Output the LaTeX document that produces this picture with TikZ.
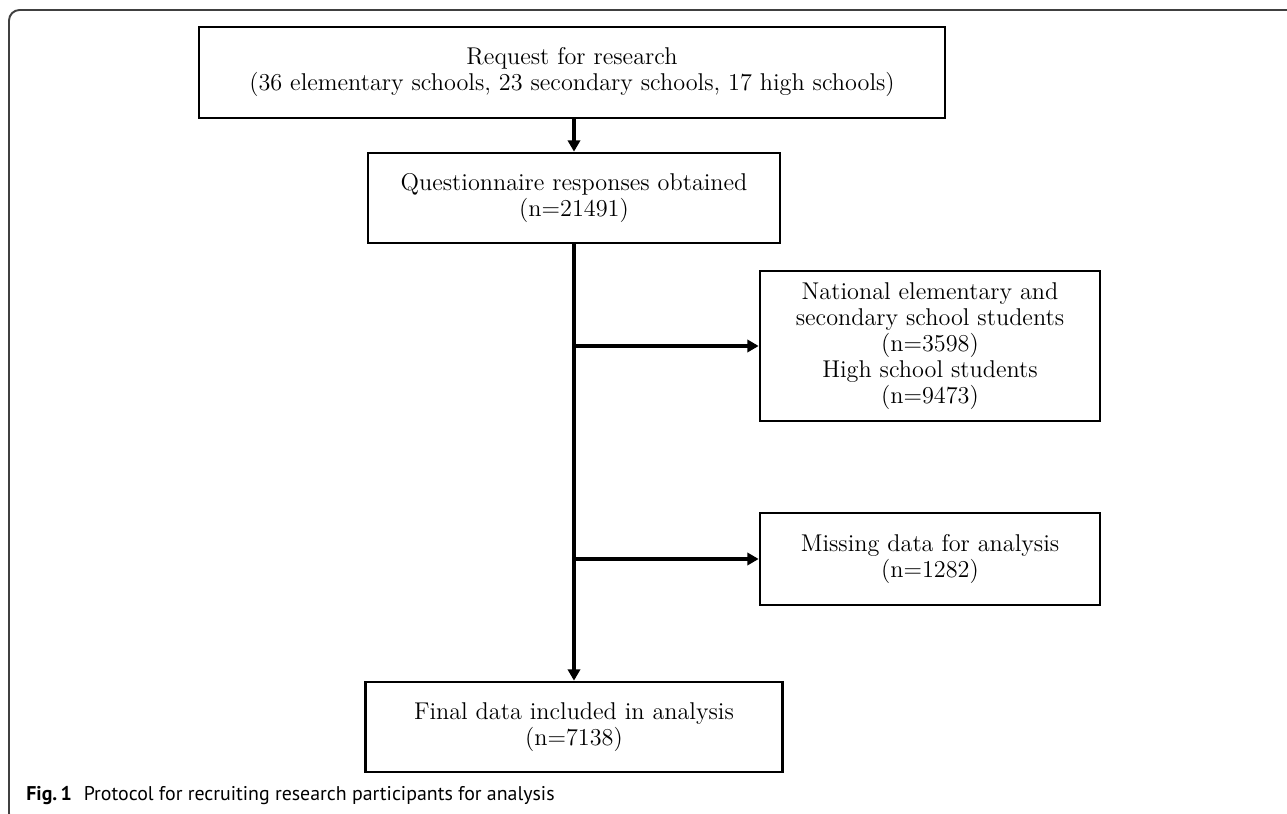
\documentclass[tikz,border=0pt]{standalone}
\usepackage{fontspec}
\newfontfamily\capfont{PT Sans}
\usepackage{tikz}
\usetikzlibrary{arrows.meta}
\usetikzlibrary{positioning}
\tikzstyle{stage}=[draw,rectangle,line width=1.5pt,align=center,inner sep=0pt,font=\fontsize{13.8}{14.8}\selectfont]
\tikzstyle{flow}=[line width=1.9pt,-{Triangle[length=6.5pt,width=7pt]}]

\begin{document}
\begin{tikzpicture}[x=0.2mm,y=-0.2mm]
    \useasboundingbox (0,0) rectangle (1287,814);
    % frame of the figure
    \begin{scope}
    \clip (0,0) rectangle (1287,814);
    \draw [line width=1.1pt, black!75, rounded corners=6pt] (9,10) rectangle (1320,824);
    \end{scope}

    \node [stage, minimum width=149.2mm, minimum height=18.2mm] (req)   at (572,72.5)  {Request for research\\(36 elementary schools, 23 secondary schools, 17 high schools)};
    \node [stage, minimum width=82.4mm,  minimum height=18mm]   (resp)  at (574,198)   {Questionnaire responses obtained\\(n=21491)};
    \node [stage, minimum width=68mm,    minimum height=30mm]   (excl)  at (930,346)   {National elementary and\\secondary school students\\(n=3598)\\High school students\\(n=9473)};
    \node [stage, minimum width=68mm,    minimum height=18.4mm] (miss)  at (930,559)   {Missing data for analysis\\(n=1282)};
    \node [stage, minimum width=83.4mm,  minimum height=18mm]   (final) at (574,727)   {Final data included in analysis\\(n=7138)};

    \coordinate (b1) at (574,346);
    \coordinate (b2) at (574,559);

    \draw [flow] (req.south -| resp.north) -- (resp.north);
    \draw [flow] (resp.south) -- (final.north);
    \draw [flow] (b1) -- (excl);
    \draw [flow] (b2) -- (miss);

    \node [anchor=base west, inner sep=0pt, font=\capfont\fontsize{11.3}{13}\selectfont] (cap) at (26,800)
      {\textbf{Fig.\,1}\hspace{0.6em}Protocol for recruiting research participants for analysis};
\end{tikzpicture}
\end{document}
